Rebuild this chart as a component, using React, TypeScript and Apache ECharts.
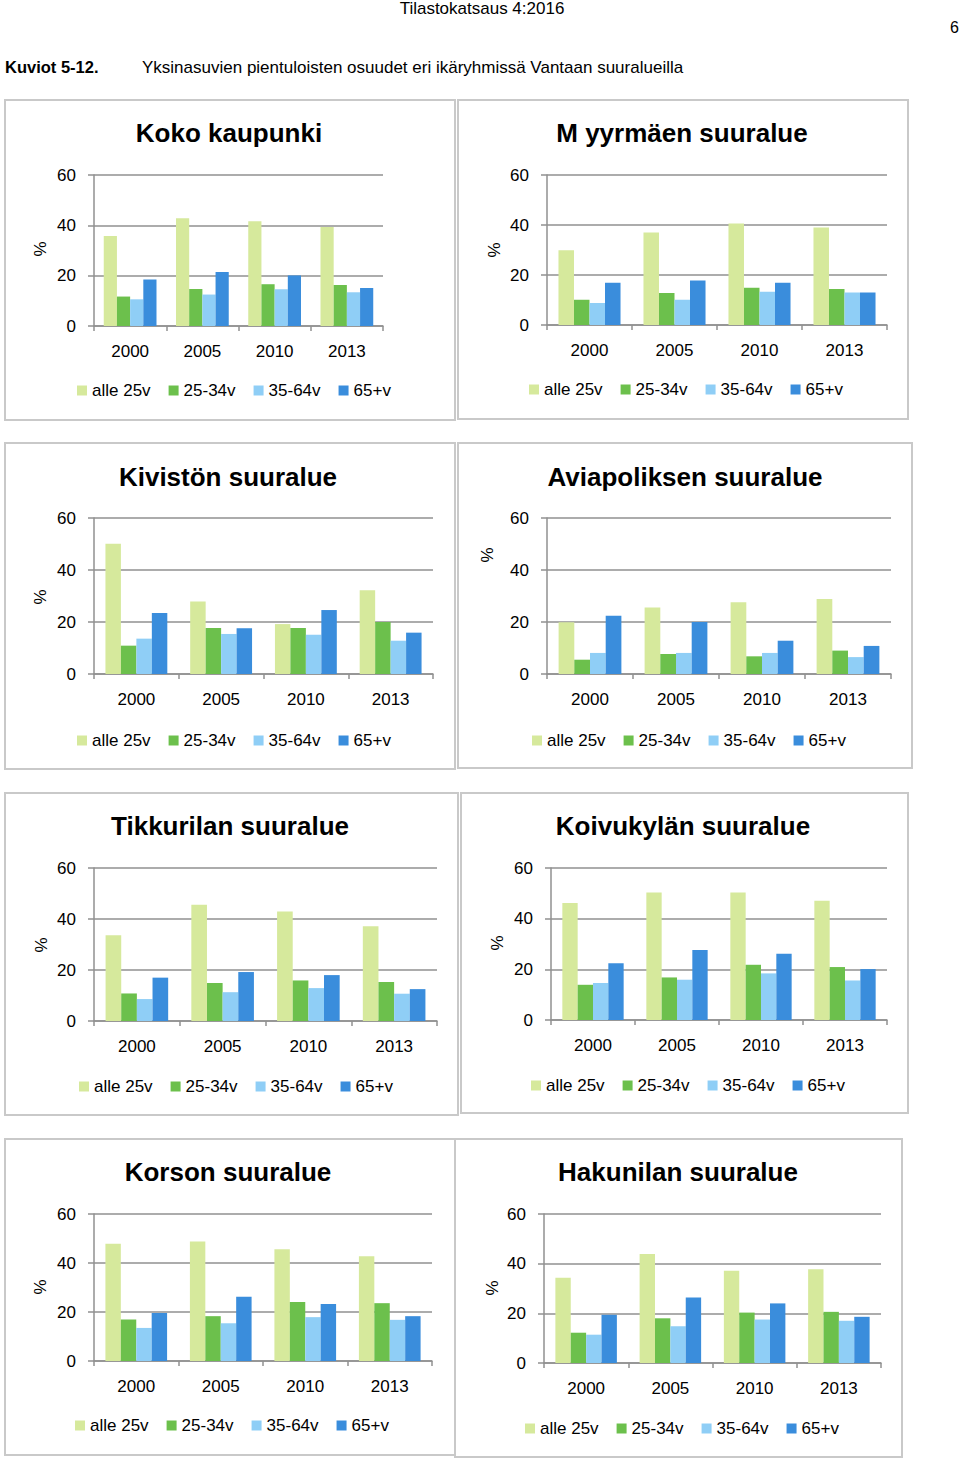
import React, { useEffect, useRef } from "react";
import * as echarts from "echarts";

// ---- Data ----
const years = ["2000", "2005", "2010", "2013"];
const ageGroups = ["alle 25v", "25-34v", "35-64v", "65+v"];
const yTicks = { min: 0, max: 60, interval: 20 };

// each row: one age group, values per year (%)
const kokoKaupunki = [
  [35.8, 42.8, 41.6, 39.3],
  [11.7, 14.7, 16.6, 16.3],
  [10.6, 12.5, 14.6, 13.4],
  [18.5, 21.5, 20.1, 15.1],
];
const myyrmaki = [
  [29.9, 37.0, 40.6, 39.0],
  [10.1, 12.8, 14.9, 14.4],
  [8.8, 10.1, 13.3, 13.0],
  [16.9, 17.8, 16.9, 13.0],
];
const kivisto = [
  [50.1, 27.9, 19.2, 32.2],
  [10.9, 17.7, 17.7, 20.0],
  [13.6, 15.4, 15.1, 12.8],
  [23.5, 17.6, 24.6, 15.9],
];
const aviapolis = [
  [19.9, 25.6, 27.6, 28.8],
  [5.5, 7.7, 6.8, 9.0],
  [8.1, 8.1, 8.1, 6.5],
  [22.4, 20.0, 12.8, 10.8],
];
const tikkurila = [
  [33.6, 45.6, 42.9, 37.2],
  [10.8, 14.9, 15.9, 15.3],
  [8.6, 11.3, 12.9, 10.7],
  [17.0, 19.2, 18.0, 12.5],
];
const koivukyla = [
  [46.2, 50.3, 50.3, 47.1],
  [13.9, 16.8, 21.8, 20.9],
  [14.6, 15.9, 18.4, 15.6],
  [22.4, 27.6, 26.2, 20.1],
];
const korso = [
  [47.9, 48.8, 45.6, 42.8],
  [16.9, 18.3, 24.1, 23.6],
  [13.5, 15.4, 17.9, 16.8],
  [19.6, 26.2, 23.3, 18.3],
];
const hakunila = [
  [34.3, 43.9, 37.1, 37.8],
  [12.2, 18.0, 20.3, 20.6],
  [11.4, 14.8, 17.5, 17.0],
  [19.4, 26.4, 24.0, 18.6],
];

const titles = [
  "Koko kaupunki",
  "M yyrmäen suuralue",
  "Kivistön suuralue",
  "Aviapoliksen suuralue",
  "Tikkurilan suuralue",
  "Koivukylän suuralue",
  "Korson suuralue",
  "Hakunilan suuralue",
];
const regionData = [kokoKaupunki, myyrmaki, kivisto, aviapolis, tikkurila, koivukyla, korso, hakunila];

// ---- Layout / style ----
const colors = ["#d6e99c", "#6cc04c", "#8fcef6", "#3a8ddc"];
const FONT = "'Liberation Sans', Arial, Helvetica, sans-serif";
const AXIS_GRAY = "#909090";

const layout = [
  { box: [5, 100, 450, 320], grid: [94, 175, 289, 151], title: [229, 133], pct: [40, 249], legend: [77, 390] },
  { box: [458, 100, 450, 319], grid: [547, 175, 340, 150], title: [682, 133], pct: [494, 250], legend: [529, 389] },
  { box: [5, 443, 450, 326], grid: [94, 518, 339, 156], title: [228, 477], pct: [40, 597], legend: [77, 740] },
  { box: [458, 443, 454, 325], grid: [547, 518, 344, 156], title: [685, 477], pct: [487, 555], legend: [532, 740] },
  { box: [5, 793, 453, 322], grid: [94, 868, 343, 153], title: [230, 826], pct: [41, 945], legend: [79, 1086] },
  { box: [461, 793, 447, 320], grid: [551, 868, 336, 152], title: [683, 826], pct: [497, 943], legend: [531, 1085] },
  { box: [5, 1139, 450, 316], grid: [94, 1214, 338, 147], title: [228, 1172], pct: [40, 1287], legend: [75, 1425] },
  { box: [455, 1139, 447, 318], grid: [544, 1214, 337, 149], title: [678, 1172], pct: [492, 1288], legend: [525, 1428] },
];

export default function App() {
  const ref = useRef<HTMLDivElement>(null);

  useEffect(() => {
    if (!ref.current) return;
    const chart = echarts.init(ref.current, undefined, { renderer: "svg" });

    const grid: any[] = [];
    const xAxis: any[] = [];
    const yAxis: any[] = [];
    const series: any[] = [];
    const legend: any[] = [];
    const graphic: any[] = [];

    // header
    graphic.push(
      { type: "text", x: 482, y: 8, style: { text: "Tilastokatsaus 4:2016", font: `17px ${FONT}`, fill: "#000", textAlign: "center", textVerticalAlign: "middle" } },
      { type: "text", x: 959, y: 27, style: { text: "6", font: `16px ${FONT}`, fill: "#000", textAlign: "right", textVerticalAlign: "middle" } },
      { type: "text", x: 5, y: 67, style: { text: "Kuviot 5-12.", font: `bold 16.5px ${FONT}`, fill: "#000", textAlign: "left", textVerticalAlign: "middle" } },
      { type: "text", x: 142, y: 67, style: { text: "Yksinasuvien pientuloisten osuudet eri ikäryhmissä Vantaan suuralueilla", font: `17px ${FONT}`, fill: "#000", textAlign: "left", textVerticalAlign: "middle" } }
    );

    layout.forEach((L, i) => {
      const [bx, by, bw, bh] = L.box;
      graphic.push({
        type: "rect",
        shape: { x: bx, y: by, width: bw, height: bh },
        style: { fill: "none", stroke: "#c9c9c9", lineWidth: 2 },
        z: -1,
      });
      graphic.push({
        type: "text",
        x: L.title[0],
        y: L.title[1],
        style: { text: titles[i], font: `bold 26px ${FONT}`, fill: "#000", textAlign: "center", textVerticalAlign: "middle" },
      });
      graphic.push({
        type: "text",
        x: L.pct[0],
        y: L.pct[1],
        rotation: Math.PI / 2,
        style: { text: "%", font: `17px ${FONT}`, fill: "#000", textAlign: "center", textVerticalAlign: "middle" },
      });

      const [gl, gt, gw, gh] = L.grid;
      grid.push({ left: gl, top: gt, width: gw, height: gh, containLabel: false });
      xAxis.push({
        type: "category",
        gridIndex: i,
        data: years,
        boundaryGap: true,
        axisLine: { show: true, lineStyle: { color: AXIS_GRAY, width: 1.5 } },
        axisTick: { show: true, length: 5, lineStyle: { color: AXIS_GRAY, width: 1.5 } },
        axisLabel: { color: "#000", fontSize: 17, fontFamily: FONT, margin: 17 },
        splitLine: { show: false },
      });
      yAxis.push({
        type: "value",
        gridIndex: i,
        min: yTicks.min,
        max: yTicks.max,
        interval: yTicks.interval,
        axisLine: { show: true, lineStyle: { color: AXIS_GRAY, width: 1.5 } },
        axisTick: { show: true, length: 6, lineStyle: { color: AXIS_GRAY, width: 1.5 } },
        axisLabel: { color: "#000", fontSize: 17, fontFamily: FONT, margin: 18 },
        splitLine: { show: true, lineStyle: { color: AXIS_GRAY, width: 1.5 } },
      });

      regionData[i].forEach((vals, s) => {
        series.push({
          type: "bar",
          name: ageGroups[s],
          xAxisIndex: i,
          yAxisIndex: i,
          data: vals,
          itemStyle: { color: colors[s] },
          barGap: "0%",
          barCategoryGap: "27%",
        });
      });

      legend.push({
        data: ageGroups,
        left: L.legend[0],
        top: L.legend[1] - 8,
        orient: "horizontal",
        icon: "rect",
        itemWidth: 10,
        itemHeight: 10,
        itemGap: 18,
        padding: 0,
        textStyle: { color: "#000", fontSize: 17, fontFamily: FONT },
        selectedMode: false,
      });
    });

    chart.setOption({
      animation: false,
      backgroundColor: "#fff",
      color: colors,
      grid,
      xAxis,
      yAxis,
      series,
      legend,
      graphic,
    });

    return () => chart.dispose();
  }, []);

  return (
    <div
      ref={ref}
      style={{ position: "absolute", left: 0, top: 0, width: 960, height: 1460, background: "#fff" }}
    />
  );
}
